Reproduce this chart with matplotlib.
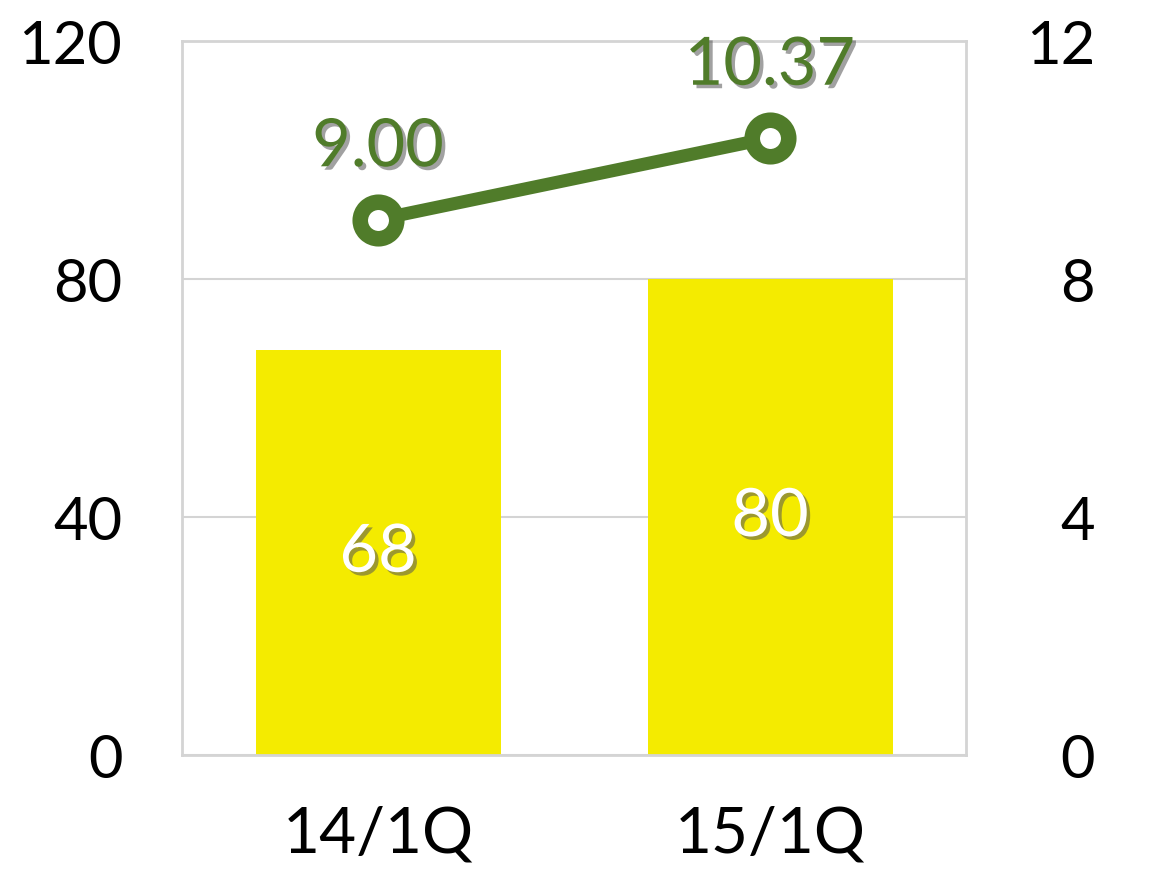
import matplotlib
matplotlib.use("Agg")
import matplotlib.pyplot as plt
import matplotlib.patheffects as pe

categories = ["14/1Q", "15/1Q"]
bar_values = [68, 80]
line_values = [9.00, 10.37]
left_ticks = [0, 40, 80, 120]
right_ticks = [0, 4, 8, 12]

BAR_C = "#F4EB00"
LINE_C = "#507C2A"
GRID_C = "#D4D4D4"

plt.rcParams['font.family'] = ['Lato', 'DejaVu Sans']

fig = plt.figure(figsize=(11.75, 8.7), dpi=100)
ax = fig.add_axes([182/1175, 1-756/870, (966-182)/1175, (756-42)/870])
x = list(range(len(categories)))
ax.bar(x, bar_values, width=0.625, color=BAR_C, zorder=2)
ax.set_xlim(-0.5, 1.5)
ax.set_ylim(0, 120)
ax.set_yticks(left_ticks)
ax.set_xticks(x)
ax.set_xticklabels(categories)
ax.tick_params(axis='both', length=0, labelsize=43, colors='black')
ax.tick_params(axis='y', pad=43)
ax.tick_params(axis='x', pad=36, labelsize=46)
ax.grid(axis='y', color=GRID_C, lw=1.5, zorder=0)
ax.set_axisbelow(True)
for s in ax.spines.values():
    s.set_color(GRID_C)
    s.set_linewidth(2)

shadow = [pe.withSimplePatchShadow(offset=(2.5, -2.5), shadow_rgbFace='#555555', alpha=0.55)]
for xi, v in zip(x, bar_values):
    ax.text(xi, v / 2, f"{v}", ha='center', va='center', fontsize=48,
            color='white', zorder=5, path_effects=shadow)

ax2 = ax.twinx()
ax2.set_ylim(0, 12)
ax2.set_yticks(right_ticks)
ax2.tick_params(axis='y', length=0, labelsize=43, pad=93, colors='black')
for lbl in ax2.get_yticklabels():
    lbl.set_ha('right')
for s in ax2.spines.values():
    s.set_visible(False)
ax2.plot(x, line_values, color=LINE_C, lw=9.4, marker='o', ms=26.3,
         mew=11.2, mfc='white', mec=LINE_C, zorder=4, solid_capstyle='butt')
for xi, v in zip(x, line_values):
    ax2.annotate(f"{v:.2f}", (xi, v), xytext=(0, 52), textcoords='offset points',
                 ha='center', va='center', fontsize=48, color=LINE_C,
                 path_effects=shadow, zorder=6)

fig.savefig("out.png", dpi=100)
